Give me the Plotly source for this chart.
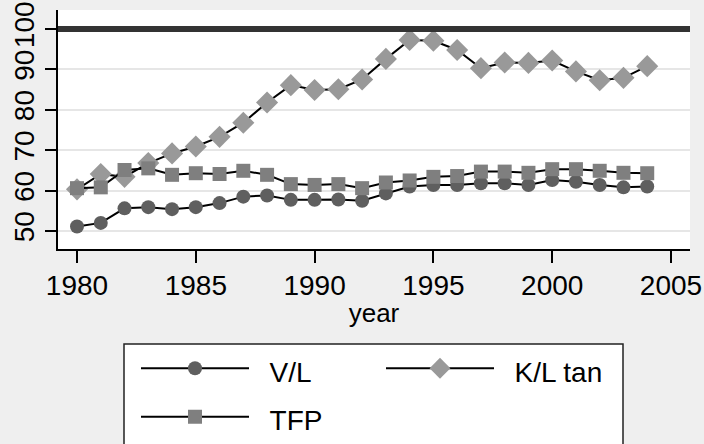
import plotly.graph_objects as go

years = list(range(1980, 2005))
vl = [51.1, 52.0, 55.6, 55.9, 55.4, 55.9, 56.9, 58.5, 58.8, 57.7, 57.7, 57.8, 57.5,
      59.3, 61.0, 61.4, 61.4, 61.8, 61.8, 61.4, 62.6, 62.2, 61.4, 60.8, 61.0]
kl_tan = [60.3, 64.1, 63.4, 66.8, 69.2, 70.9, 73.3, 76.8, 81.8, 86.1, 84.9, 85.1, 87.5,
          92.6, 97.3, 97.1, 94.8, 90.3, 91.7, 91.6, 92.2, 89.5, 87.3, 87.9, 90.8]
tfp = [60.6, 60.8, 65.1, 65.5, 63.9, 64.3, 64.1, 64.9, 63.9, 61.6, 61.4, 61.6, 60.6,
       62.0, 62.5, 63.4, 63.6, 64.7, 64.7, 64.4, 65.3, 65.3, 64.9, 64.4, 64.3]
ref_level = 100
x_ticks = [1980, 1985, 1990, 1995, 2000, 2005]
y_ticks = [50, 60, 70, 80, 90, 100]
names = ["V/L", "K/L tan", "TFP"]

FONT = "Liberation Sans, Arial, sans-serif"


def legend_label(txt):
    return "<span style='font-size:28px'>\u00a0\u00a0" + txt + "</span>"


fig = go.Figure()
fig.add_trace(go.Scatter(x=years, y=vl, name=legend_label(names[0]), mode="lines+markers",
                         line=dict(color="black", width=2),
                         marker=dict(symbol="circle", size=14, color="#5f5f5f")))
fig.add_trace(go.Scatter(x=years, y=kl_tan, name=legend_label(names[1]), mode="lines+markers",
                         line=dict(color="black", width=2),
                         marker=dict(symbol="diamond", size=17, color="#999999")))
fig.add_trace(go.Scatter(x=years, y=tfp, name=legend_label(names[2]), mode="lines+markers",
                         line=dict(color="black", width=2),
                         marker=dict(symbol="square", size=14, color="#7f7f7f")))

fig.add_shape(type="line", xref="paper", x0=0, x1=1, yref="y", y0=ref_level, y1=ref_level,
              line=dict(color="#333333", width=6), layer="above")
# legend frame
fig.add_shape(type="rect", xref="paper", yref="paper",
              x0=(124 - 58) / 632, x1=(623 - 58) / 632,
              y0=(249 - 344) / 239, y1=(249 - 460) / 239,
              line=dict(color="#222222", width=1.5), fillcolor="white", layer="below")

fig.update_layout(
    width=704, height=444,
    margin=dict(l=58, r=14, t=10, b=195, autoexpand=False),
    paper_bgcolor="#efefef", plot_bgcolor="white",
    font=dict(family=FONT, color="black", size=28),
    showlegend=True,
    legend=dict(orientation="h", x=(136 - 58) / 632, xanchor="left",
                y=(249 - 339) / 239, yanchor="top",
                bgcolor="rgba(0,0,0,0)", borderwidth=0,
                font=dict(size=35, family=FONT), itemwidth=108,
                entrywidth=122, entrywidthmode="pixels", traceorder="normal"),
    xaxis=dict(range=[1979.2, 2005.8], tickvals=x_ticks, showgrid=False, zeroline=False,
               showline=True, linecolor="black", linewidth=2, automargin=False,
               ticks="outside", ticklen=12, tickwidth=1.5, tickcolor="black",
               ticklabeloverflow="allow", ticklabelstandoff=-2,
               tickfont=dict(size=28, family=FONT),
               title=dict(text="year", font=dict(size=26, family=FONT), standoff=4)),
    yaxis=dict(range=[45.54, 104.7], tickvals=y_ticks, showgrid=True, gridcolor="#e6e6e6",
               gridwidth=1.5, zeroline=False, showline=True, linecolor="black", linewidth=2,
               ticks="outside", ticklen=11, tickwidth=1.5, tickcolor="black",
               tickangle=-90, automargin=False, ticklabeloverflow="allow",
               tickfont=dict(size=28, family="Liberation Sans Narrow, Arial Narrow, " + FONT)),
)

fig.write_html("out.html", config={"displayModeBar": False},
               post_script="document.body.style.margin='0';")
